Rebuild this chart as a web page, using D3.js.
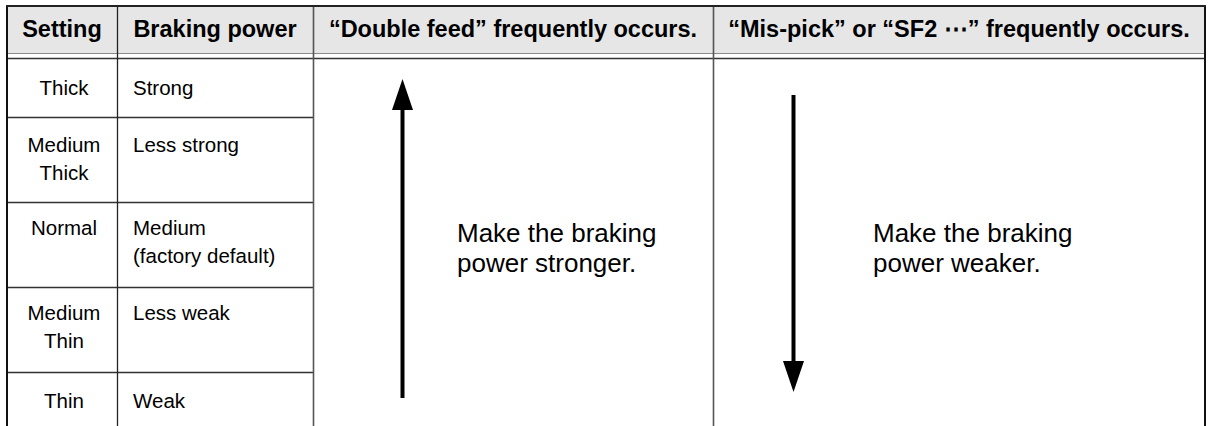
<!DOCTYPE html>
<html><head><meta charset="utf-8">
<script src="https://cdn.jsdelivr.net/npm/d3@7"></script>
<style>html,body{margin:0;padding:0;background:#fff;overflow:hidden}</style>
</head><body><svg id="c" width="1211" height="426"></svg>
<script>
const headers = ["Setting", "Braking power", "\u201cDouble feed\u201d frequently occurs.", "\u201cMis-pick\u201d or \u201cSF2 \u22ef\u201d frequently occurs."];
const settings = [["Thick"], ["Medium", "Thick"], ["Normal"], ["Medium", "Thin"], ["Thin"]];
const powers = [["Strong"], ["Less strong"], ["Medium", "(factory default)"], ["Less weak"], ["Weak"]];
const notes = [["Make the braking", "power stronger."], ["Make the braking", "power weaker."]];
const directions = ["up", "down"];

const svg = d3.select("#c");
const font = "'Liberation Sans', Arial, sans-serif";
const colX = [7, 117, 313, 713, 1205];
const headTop = 6, headBot = 53, bodyTop = 58;
const rowTops = [58, 117, 202, 287, 372];
const H = 426;

// header background
svg.append("rect").attr("x", colX[0]).attr("y", headTop).attr("width", colX[4] - colX[0]).attr("height", headBot - headTop).attr("fill", "#e6e6e6");
svg.append("line").attr("x1", colX[0]).attr("x2", colX[4]).attr("y1", headBot + 0.5).attr("y2", headBot + 0.5).attr("stroke", "#8a8a8a").attr("stroke-width", 1);
svg.append("line").attr("x1", colX[0]).attr("x2", colX[4]).attr("y1", bodyTop + 0.5).attr("y2", bodyTop + 0.5).attr("stroke", "#333").attr("stroke-width", 1.3);

// row lines (first two columns)
svg.selectAll("line.row").data(rowTops.slice(1)).join("line").attr("class", "row")
  .attr("x1", colX[0]).attr("x2", colX[2]).attr("y1", d => d + 0.5).attr("y2", d => d + 0.5)
  .attr("stroke", "#333").attr("stroke-width", 1.3);

// vertical lines
svg.selectAll("line.col").data(colX.slice(1, 4)).join("line").attr("class", "col")
  .attr("x1", d => d + 0.5).attr("x2", d => d + 0.5).attr("y1", headTop).attr("y2", H)
  .attr("stroke", (d, i) => i === 0 ? "#222" : "#555").attr("stroke-width", (d, i) => i === 0 ? 1.3 : 1.6);

// outer borders
svg.append("line").attr("x1", colX[0]).attr("x2", colX[0]).attr("y1", headTop - 1).attr("y2", H).attr("stroke", "#111").attr("stroke-width", 2);
svg.append("line").attr("x1", colX[4]).attr("x2", colX[4]).attr("y1", headTop - 1).attr("y2", H).attr("stroke", "#111").attr("stroke-width", 2);
svg.append("line").attr("x1", colX[0] - 1).attr("x2", colX[4] + 1).attr("y1", headTop).attr("y2", headTop).attr("stroke", "#222").attr("stroke-width", 2);

// header text
svg.selectAll("text.h").data(headers).join("text").attr("class", "h")
  .attr("x", (d, i) => (colX[i] + colX[i + 1]) / 2).attr("y", 37)
  .attr("text-anchor", "middle").attr("font-family", font).attr("font-weight", "bold").attr("font-size", 23.5)
  .attr("fill", "#000").text(d => d);

const baseOff = [37, 35, 33, 33, 36];
const lh = 28;
// setting column
settings.forEach((lines, r) => {
  lines.forEach((t, k) => {
    svg.append("text").attr("x", (colX[0] + colX[1]) / 2 + 2).attr("y", rowTops[r] + baseOff[r] + k * lh)
      .attr("text-anchor", "middle").attr("font-family", font).attr("font-size", 20.5).attr("fill", "#000").text(t);
  });
});
powers.forEach((lines, r) => {
  lines.forEach((t, k) => {
    svg.append("text").attr("x", colX[1] + 16).attr("y", rowTops[r] + baseOff[r] + k * lh)
      .attr("font-family", font).attr("font-size", 20.5).attr("fill", "#000").text(t);
  });
});

// arrows
const arrows = [
  {x: 402.5, tip: 79, base: 110, end: 398},
  {x: 793.5, tip: 392, base: 361, end: 95}
];
arrows.forEach((a, i) => {
  svg.append("line").attr("x1", a.x).attr("x2", a.x).attr("y1", a.base).attr("y2", a.end).attr("stroke", "#000").attr("stroke-width", 4);
  svg.append("path").attr("d", d3.line()([[a.x, a.tip], [a.x - 10.5, a.base], [a.x + 10.5, a.base]]) + "Z").attr("fill", "#000");
});

// notes
const noteX = [457, 873];
notes.forEach((lines, i) => {
  lines.forEach((t, k) => {
    svg.append("text").attr("x", noteX[i]).attr("y", 242 + k * 30)
      .attr("font-family", font).attr("font-size", 26).attr("fill", "#000").text(t);
  });
});
</script></body></html>
